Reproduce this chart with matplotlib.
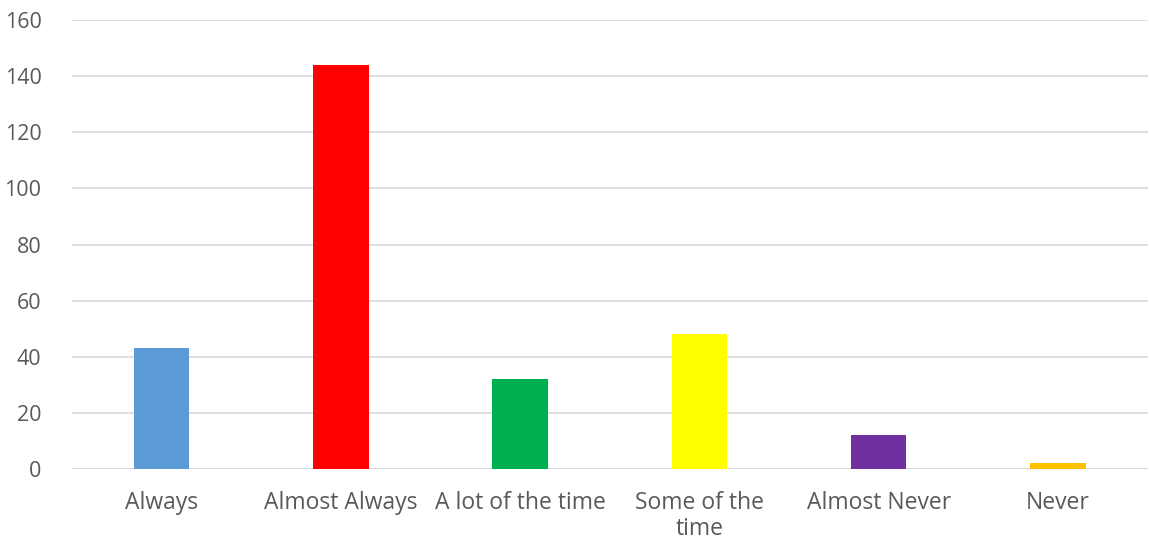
import matplotlib
matplotlib.use("Agg")
import matplotlib.pyplot as plt

categories = ["Always", "Almost Always", "A lot of the time", "Some of the\ntime", "Almost Never", "Never"]
values = [43, 144, 32, 48, 12, 2]
colors = ["#5B9BD5", "#FF0000", "#00B050", "#FFFF00", "#7030A0", "#FFC000"]
yticks = [0, 20, 40, 60, 80, 100, 120, 140, 160]

plt.rcParams['font.family'] = ['Open Sans', 'DejaVu Sans']

fig = plt.figure(figsize=(11.49, 5.43), dpi=100)
ax = fig.add_axes([0.0627, 0.1363, 0.936, 0.8268])

x = list(range(len(categories)))
ax.bar(x, values, width=0.31, color=colors, zorder=3)

ax.set_xlim(-0.5, len(categories) - 0.5)
ax.set_ylim(0, 160)
ax.set_yticks(yticks)
ax.set_xticks(x)
ax.set_xticklabels(categories)
ax.yaxis.grid(True, color="#D9D9D9", linewidth=1.2, zorder=0)
ax.set_axisbelow(True)
for s in ax.spines.values():
    s.set_visible(False)
ax.axhline(0, color="#D9D9D9", linewidth=1.2, zorder=1)
ax.tick_params(axis='both', length=0, colors="#595959")
ax.tick_params(axis='x', pad=16, labelsize=16.5)
ax.tick_params(axis='y', pad=22, labelsize=15.5)
for lbl in ax.get_xticklabels():
    lbl.set_linespacing(1.12)

fig.savefig("out.png", dpi=100)
